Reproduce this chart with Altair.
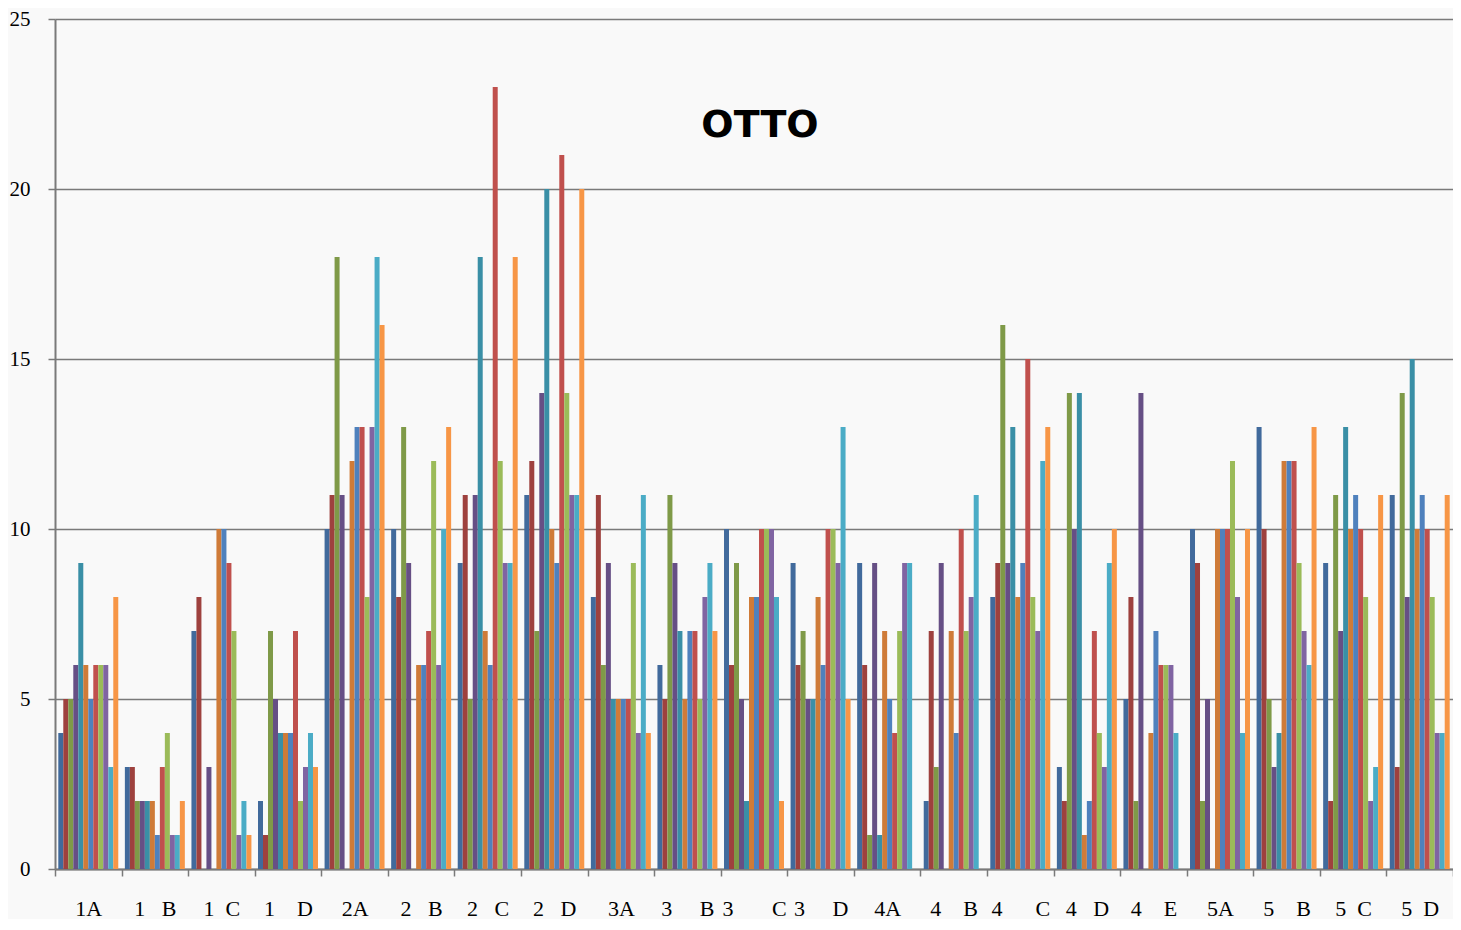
import altair as alt
import pandas as pd

NB = "\u00a0"

# category labels (spacing as printed under the axis)
categories = [
    "1A", "1" + NB * 3 + "B", "1" + NB * 2 + "C", "1" + NB * 4 + "D",
    "2A", "2" + NB * 3 + "B", "2" + NB * 3 + "C", "2" + NB * 3 + "D",
    "3A", "3" + NB * 5 + "B", "3" + NB * 7 + "C", "3" + NB * 5 + "D",
    "4A", "4" + NB * 4 + "B", "4" + NB * 6 + "C", "4" + NB * 3 + "D", "4" + NB * 4 + "E",
    "5A", "5" + NB * 4 + "B", "5" + NB * 2 + "C", "5" + NB * 2 + "D",
]

series_names = ["S1", "S2", "S3", "S4", "S5", "S6", "S7", "S8", "S9", "S10", "S11", "S12"]

s1 = [4, 3, 7, 2, 10, 10, 9, 11, 8, 6, 10, 9, 9, 2, 8, 3, 5, 10, 13, 9, 11]
s2 = [5, 3, 8, 1, 11, 8, 11, 12, 11, 5, 6, 6, 6, 7, 9, 2, 8, 9, 10, 2, 3]
s3 = [5, 2, 0, 7, 18, 13, 5, 7, 6, 11, 9, 7, 1, 3, 16, 14, 2, 2, 5, 11, 14]
s4 = [6, 2, 3, 5, 11, 9, 11, 14, 9, 9, 5, 5, 9, 9, 9, 10, 14, 5, 3, 7, 8]
s5 = [9, 2, 0, 4, 0, 0, 18, 20, 5, 7, 2, 5, 1, 0, 13, 14, 0, 0, 4, 13, 15]
s6 = [6, 2, 10, 4, 12, 6, 7, 10, 5, 5, 8, 8, 7, 7, 8, 1, 4, 10, 12, 10, 10]
s7 = [5, 1, 10, 4, 13, 6, 6, 9, 5, 7, 8, 6, 5, 4, 9, 2, 7, 10, 12, 11, 11]
s8 = [6, 3, 9, 7, 13, 7, 23, 21, 5, 7, 10, 10, 4, 10, 15, 7, 6, 10, 12, 10, 10]
s9 = [6, 4, 7, 2, 8, 12, 12, 14, 9, 5, 10, 10, 7, 7, 8, 4, 6, 12, 9, 8, 8]
s10 = [6, 1, 1, 3, 13, 6, 9, 11, 4, 8, 10, 9, 9, 8, 7, 3, 6, 8, 7, 2, 4]
s11 = [3, 1, 2, 4, 18, 10, 9, 11, 11, 9, 8, 13, 9, 11, 12, 9, 4, 4, 6, 3, 4]
s12 = [8, 2, 1, 3, 16, 13, 18, 20, 4, 7, 2, 5, 0, 0, 13, 10, 0, 10, 13, 11, 11]

series_values = [s1, s2, s3, s4, s5, s6, s7, s8, s9, s10, s11, s12]

colors = ["#416A9C", "#9E413E", "#7F9A48", "#664F85", "#3A8FA6", "#CF7B38",
          "#4F81BD", "#C0504D", "#9BBB59", "#8064A2", "#4BACC6", "#F79646"]

y_ticks = [0, 5, 10, 15, 20, 25]
title_text = ["OTTO"]

rows = []
for name, vals in zip(series_names, series_values):
    for cat, v in zip(categories, vals):
        rows.append({"cat": cat, "series": name, "value": v})
df = pd.DataFrame(rows)

W, H = 1398, 850
GRID = "#7a7a7a"

bars = alt.Chart(df).mark_bar().encode(
    x=alt.X(
        "cat:N", sort=categories, title=None,
        scale=alt.Scale(paddingInner=0, paddingOuter=0),
        axis=alt.Axis(
            labelAngle=0, labelFont="Liberation Serif", labelFontSize=22,
            labelColor="black", labelPadding=22, labelOverlap=False, labelLimit=300,
            domainColor=GRID, domainWidth=2, tickColor=GRID, tickWidth=1.5,
            tickSize=7, tickBand="extent", grid=False,
        ),
    ),
    xOffset=alt.XOffset(
        "series:N", sort=series_names,
        scale=alt.Scale(paddingInner=0, paddingOuter=0.66),
    ),
    y=alt.Y(
        "value:Q", title=None,
        scale=alt.Scale(domain=[0, 25], nice=False),
        axis=alt.Axis(
            values=y_ticks, labelFont="Liberation Serif", labelFontSize=21,
            labelColor="black", labelPadding=18, tickSize=7, tickColor=GRID,
            tickWidth=1.5, domainColor=GRID, domainWidth=2,
            grid=True, gridColor=GRID, gridWidth=1.5,
        ),
    ),
    color=alt.Color(
        "series:N", sort=series_names,
        scale=alt.Scale(domain=series_names, range=colors), legend=None,
    ),
)

title = alt.Chart(pd.DataFrame({"t": title_text})).mark_text(
    font="DejaVu Sans", fontWeight="bold", fontSize=38, color="black",
    align="center", baseline="middle",
).encode(text="t:N", x=alt.value(705), y=alt.value(107))

chart = alt.layer(bars, title).properties(
    width=W, height=H,
    autosize=alt.AutoSizeParams(type="none"),
    padding={"left": 47, "top": 11, "right": 0, "bottom": 50},
    background="#F9F9F9",
).configure_view(stroke=None)

chart.save("out.html", embed_options={"renderer": "svg", "actions": False})
